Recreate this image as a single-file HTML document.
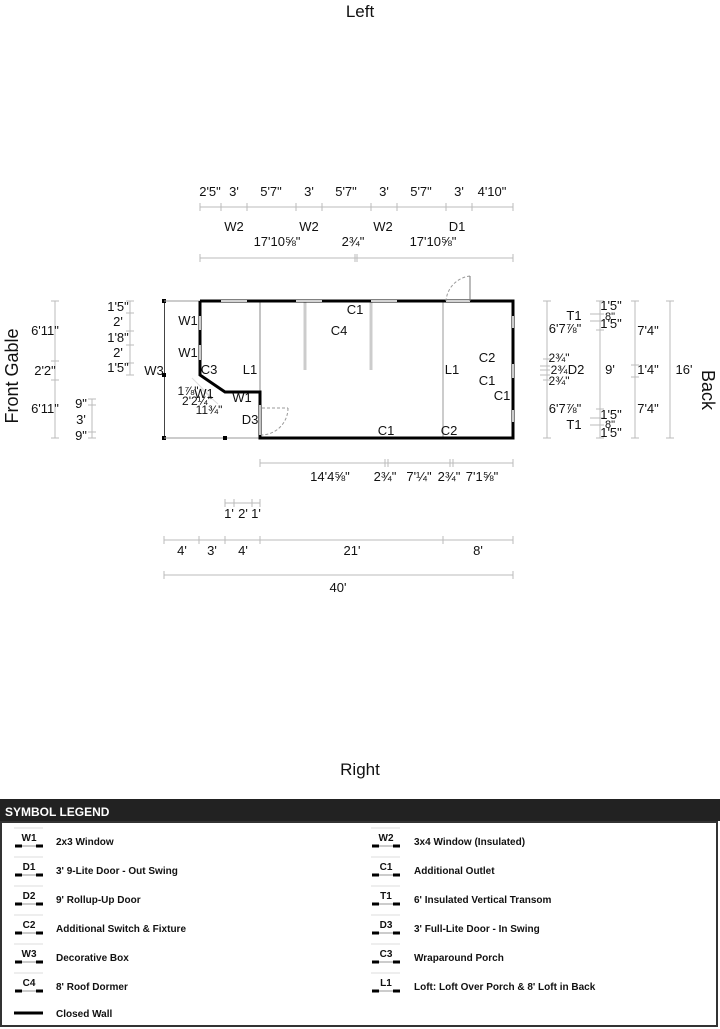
<!DOCTYPE html>
<html><head><meta charset="utf-8"><style>
html,body{margin:0;padding:0;background:#fff}
svg{display:block}
text{font-family:"Liberation Sans",Arial,sans-serif}
.d{font-size:13px;fill:#111;text-anchor:middle}
.s{font-size:11px;fill:#111;text-anchor:middle}
.dl{stroke:#bbb;stroke-width:1;fill:none}
.lg{font-size:10px;font-weight:bold;fill:#111}
.lc{font-size:10px;font-weight:bold;fill:#111;text-anchor:middle}
</style></head><body>
<svg width="720" height="1029" viewBox="0 0 720 1029">
<text x="360" y="17" class="d" style="font-size:17px">Left</text>
<text x="360" y="775" class="d" style="font-size:17px">Right</text>
<text transform="translate(18,376) rotate(-90)" class="d" style="font-size:18px">Front Gable</text>
<text transform="translate(702,390) rotate(90)" class="d" style="font-size:18px">Back</text>

<!-- top dims -->
<g class="dl">
<line x1="200" y1="207" x2="513" y2="207"/>
<path d="M200 203v8M221 203v8M247 203v8M296 203v8M322 203v8M371 203v8M397 203v8M446 203v8M472 203v8M513 203v8"/>
<line x1="200" y1="258" x2="513" y2="258"/>
<path d="M200 254v8M355 254v8M357 254v8M513 254v8"/>
</g>
<g class="d">
<text x="210" y="196">2'5"</text><text x="234" y="196">3'</text><text x="271" y="196">5'7"</text><text x="309" y="196">3'</text><text x="346" y="196">5'7"</text><text x="384" y="196">3'</text><text x="421" y="196">5'7"</text><text x="459" y="196">3'</text><text x="492" y="196">4'10"</text>
<text x="234" y="231">W2</text><text x="309" y="231">W2</text><text x="383" y="231">W2</text><text x="457" y="231">D1</text>
<text x="277" y="246">17'10⅝"</text><text x="353" y="246">2¾"</text><text x="433" y="246">17'10⅝"</text>
</g>

<!-- left dims -->
<g class="dl">
<line x1="55" y1="301" x2="55" y2="438"/><path d="M51 301h8M51 361h8M51 380h8M51 438h8"/>
<line x1="130" y1="301" x2="130" y2="375"/><path d="M126 301h8M126 313h8M126 331h8M126 345h8M126 363h8M126 375h8"/>
<line x1="92" y1="399" x2="92" y2="438"/><path d="M88 399h8M88 405h8M88 432h8M88 438h8"/>
</g>
<g class="d">
<text x="45" y="335">6'11"</text><text x="45" y="375">2'2"</text><text x="45" y="413">6'11"</text>
<text x="118" y="311">1'5"</text><text x="118" y="326">2'</text><text x="118" y="342">1'8"</text><text x="118" y="357">2'</text><text x="118" y="372">1'5"</text>
<text x="81" y="408">9"</text><text x="81" y="424">3'</text><text x="81" y="440">9"</text>
<text x="154" y="375">W3</text>
</g>
<line x1="164.5" y1="301" x2="164.5" y2="438" stroke="#444"/>
<rect x="162" y="299" width="4" height="4" fill="#000"/><rect x="162" y="373" width="4" height="4" fill="#000"/><rect x="162" y="436" width="4" height="4" fill="#000"/>

<!-- right dims -->
<g class="dl">
<line x1="547" y1="301" x2="547" y2="438"/><path d="M543 301h8M543 359h8M543 380h8M543 438h8"/>
<path d="M540 366h10M540 370h10M540 375h10" />
<line x1="600" y1="301" x2="600" y2="438"/><path d="M596 301h8M590 314h14M590 321h14M596 330h8M596 409h8M590 418h14M590 425h14M596 438h8"/>
<line x1="635" y1="301" x2="635" y2="438"/><path d="M631 301h8M631 365h8M631 377h8M631 438h8"/>
<line x1="670" y1="301" x2="670" y2="438"/><path d="M666 301h8M666 438h8"/>
</g>
<g class="d">
<text x="565" y="333">6'7⅞"</text><text x="565" y="413">6'7⅞"</text>
<text x="559" y="362" style="font-size:12px">2¾"</text><text x="559" y="374" style="font-size:12px">2¾</text><text x="559" y="385" style="font-size:12px">2¾"</text>
<text x="576" y="374">D2</text><text x="574" y="320">T1</text><text x="574" y="429">T1</text>
<text x="611" y="310">1'5"</text><text x="610" y="320" style="font-size:11px">8"</text><text x="611" y="328">1'5"</text>
<text x="611" y="419">1'5"</text><text x="610" y="428" style="font-size:11px">8"</text><text x="611" y="437">1'5"</text>
<text x="610" y="374">9'</text>
<text x="648" y="335">7'4"</text><text x="648" y="374">1'4"</text><text x="648" y="413">7'4"</text>
<text x="684" y="374">16'</text>
</g>

<!-- bottom dims -->
<g class="dl">
<line x1="260" y1="463" x2="513" y2="463"/><path d="M260 459v8M385 459v8M388 459v8M450 459v8M453 459v8M513 459v8"/>
<line x1="225" y1="503" x2="260" y2="503"/><path d="M225 499v8M234 499v8M252 499v8M260 499v8"/>
<line x1="164" y1="540" x2="513" y2="540"/><path d="M164 536v8M199 536v8M225 536v8M260 536v8M443 536v8M513 536v8"/>
<line x1="164" y1="575" x2="513" y2="575"/><path d="M164 571v8M513 571v8"/>
</g>
<g class="d">
<text x="330" y="481">14'4⅝"</text><text x="385" y="481">2¾"</text><text x="419" y="481">7'¼"</text><text x="449" y="481">2¾"</text><text x="482" y="481">7'1⅝"</text>
<text x="229" y="518">1'</text><text x="243" y="518">2'</text><text x="256" y="518">1'</text>
<text x="182" y="555">4'</text><text x="212" y="555">3'</text><text x="243" y="555">4'</text><text x="352" y="555">21'</text><text x="478" y="555">8'</text>
<text x="338" y="592">40'</text>
</g>

<!-- building -->
<g fill="none">
<path d="M164 301H200M164 438H260" stroke="#999"/>
<line x1="260" y1="301" x2="260" y2="392" stroke="#888"/>
<line x1="443" y1="301" x2="443" y2="438" stroke="#999"/>
<path d="M305 301V370M371 301V370" stroke="#ccc" stroke-width="3"/>
<path d="M200 301H513V438H260V392H225L200 375V301" stroke="#000" stroke-width="3"/>
<!-- openings -->
<path d="M221 301H247M296 301H322M371 301H397M446 301H470" stroke="#fff" stroke-width="2"/>
<path d="M221 301H247M296 301H322M371 301H397M446 301H470" stroke="#aaa" stroke-width="1"/>
<path d="M200 316V330M200 345V360M513 316V328M513 364V378M513 410V422" stroke="#fff" stroke-width="2"/>
<path d="M200 316V330M200 345V360M513 316V328M513 364V378M513 410V422" stroke="#999"/>
<path d="M260 405V435" stroke="#fff" stroke-width="2"/>
<path d="M260 405V435" stroke="#888"/>
<path d="M470 276V301M470 276A27 27 0 0 0 446 301M262 408H288M288 408A27 27 0 0 1 262 435" stroke="#999" stroke-dasharray="3,2"/>
<path d="M470 276V301" stroke="#777" stroke-dasharray="none"/>
<path d="M192 378L212 398M200 388L218 404" stroke="#ddd"/>
</g>
<rect x="223" y="436" width="4" height="4" fill="#000"/>
<g class="d">
<text x="355" y="314">C1</text><text x="339" y="335">C4</text>
<text x="188" y="325">W1</text><text x="188" y="357">W1</text><text x="209" y="374">C3</text><text x="250" y="374">L1</text>
<text x="452" y="374">L1</text><text x="487" y="362">C2</text><text x="487" y="385">C1</text><text x="502" y="400">C1</text>
<text x="250" y="424">D3</text><text x="386" y="435">C1</text><text x="449" y="435">C2</text>
<text x="242" y="402">W1</text><text x="204" y="398">W1</text>
<text x="188" y="395" style="font-size:12px">1⅞"</text><text x="197" y="405" style="font-size:12px">2'2¼"</text><text x="209" y="414" style="font-size:12px">11¾"</text>
</g>

<!-- legend -->
<rect x="0" y="799" width="720" height="22" fill="#222"/>
<text x="5" y="816" style="font-size:12px;font-weight:bold;fill:#fff">SYMBOL LEGEND</text>
<rect x="1" y="822" width="716" height="204" fill="none" stroke="#333" stroke-width="2"/>
<g id="L">
</g>
<g>
<!-- left column -->
<g class="lc"><text x="29" y="841">W1</text><text x="29" y="870">D1</text><text x="29" y="899">D2</text><text x="29" y="928">C2</text><text x="29" y="957">W3</text><text x="29" y="986">C4</text></g>
<g class="lc"><text x="386" y="841">W2</text><text x="386" y="870">C1</text><text x="386" y="899">T1</text><text x="386" y="928">D3</text><text x="386" y="957">C3</text><text x="386" y="986">L1</text></g>
<g stroke="#000" stroke-width="3">
<path d="M15 846h7M36 846h7M15 875h7M36 875h7M15 904h7M36 904h7M15 933h7M36 933h7M15 962h7M36 962h7M15 991h7M36 991h7"/>
<path d="M372 846h7M393 846h7M372 875h7M393 875h7M372 904h7M393 904h7M372 933h7M393 933h7M372 962h7M393 962h7M372 991h7M393 991h7"/>
<path d="M14 1013h29"/>
</g>
<g stroke="#999" stroke-width="1">
<path d="M22 846h14M22 875h14M22 904h14M22 933h14M22 962h14M22 991h14M379 846h14M379 875h14M379 904h14M379 933h14M379 962h14M379 991h14"/>
</g>
<g stroke="#ddd"><path d="M14 828h29M14 857h29M14 886h29M14 915h29M14 944h29M14 973h29M371 828h29M371 857h29M371 886h29M371 915h29M371 944h29M371 973h29"/></g>
<g class="lg">
<text x="56" y="845">2x3 Window</text><text x="56" y="874">3' 9-Lite Door - Out Swing</text><text x="56" y="903">9' Rollup-Up Door</text><text x="56" y="932">Additional Switch &amp; Fixture</text><text x="56" y="961">Decorative Box</text><text x="56" y="990">8' Roof Dormer</text><text x="56" y="1017">Closed Wall</text>
<text x="414" y="845">3x4 Window (Insulated)</text><text x="414" y="874">Additional Outlet</text><text x="414" y="903">6' Insulated Vertical Transom</text><text x="414" y="932">3' Full-Lite Door - In Swing</text><text x="414" y="961">Wraparound Porch</text><text x="414" y="990">Loft: Loft Over Porch &amp; 8' Loft in Back</text>
</g>
</g>
</svg>
</body></html>
